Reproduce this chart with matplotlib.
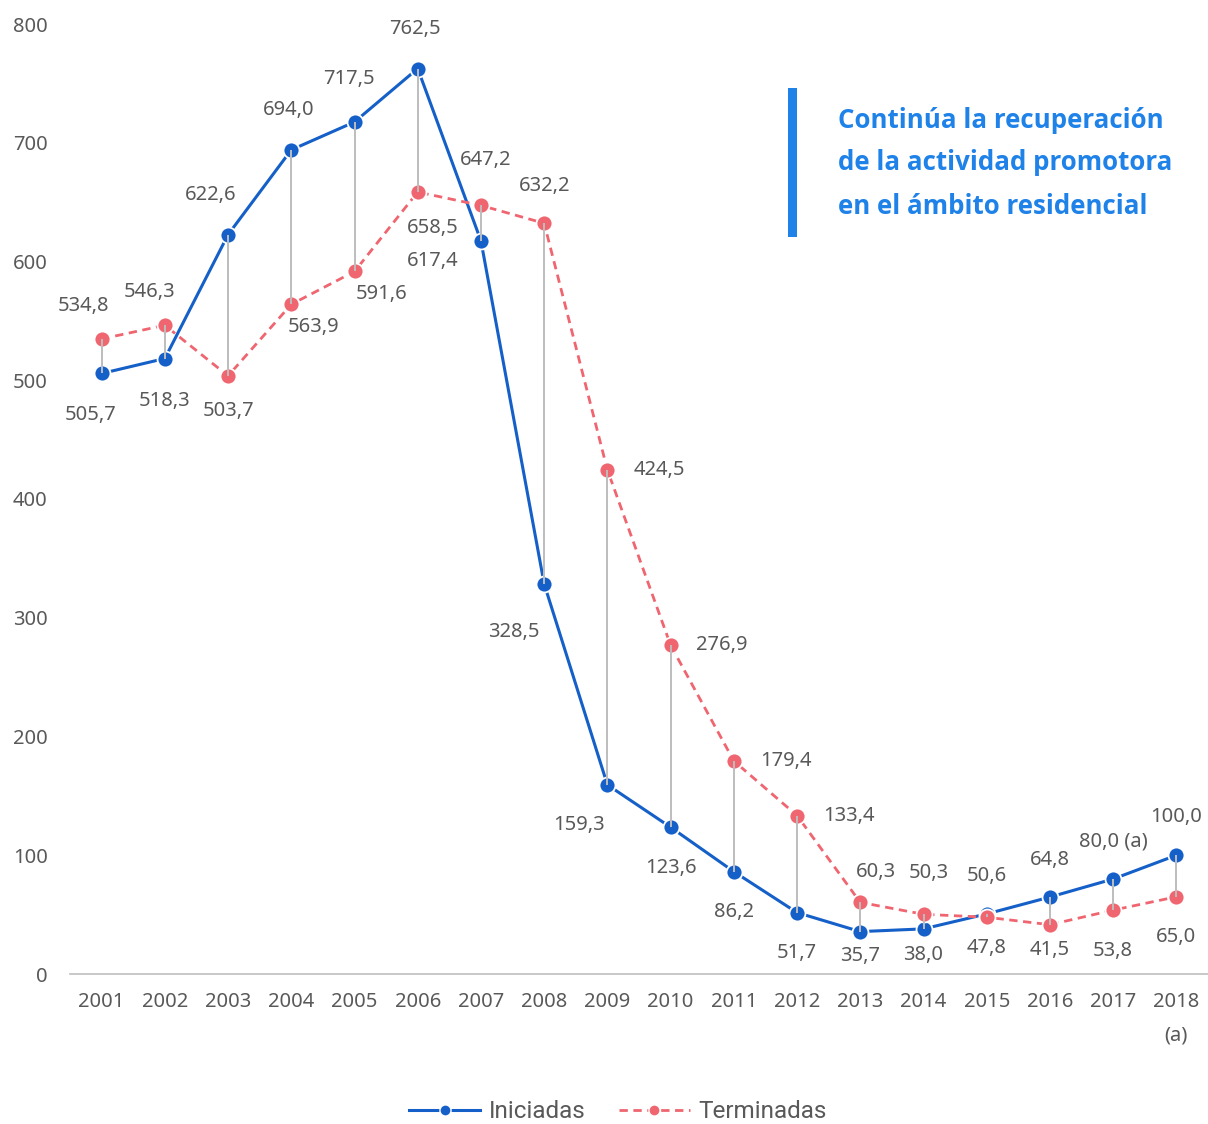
import matplotlib
matplotlib.use("Agg")
import matplotlib.pyplot as plt
from matplotlib.lines import Line2D
from matplotlib.patches import Rectangle

years = list(range(2001, 2019))
xlabels = [str(y) for y in years[:-1]] + ["2018\n(a)"]
iniciadas = [505.7, 518.3, 622.6, 694.0, 717.5, 762.5, 617.4, 328.5, 159.3, 123.6,
             86.2, 51.7, 35.7, 38.0, 50.6, 64.8, 80.0, 100.0]
terminadas = [534.8, 546.3, 503.7, 563.9, 591.6, 658.5, 647.2, 632.2, 424.5, 276.9,
              179.4, 133.4, 60.3, 50.3, 47.8, 41.5, 53.8, 65.0]
ini_labels = [f"{v:.1f}".replace(".", ",") for v in iniciadas]
ini_labels[16] = "80,0 (a)"
ter_labels = [f"{v:.1f}".replace(".", ",") for v in terminadas]
yticks = [0, 100, 200, 300, 400, 500, 600, 700, 800]
title_lines = ["Continúa la recuperación", "de la actividad promotora", "en el ámbito residencial"]

# label offsets in pixels (dx right, dy down)
ini_off = [(-11, 42), (0, 42), (-17, -40), (-3, -40), (-6, -43), (-3, -40), (-48, 20),
           (-30, 48), (-28, 40), (0, 41), (0, 40), (0, 40), (0, 24), (0, 26),
           (0, -38), (0, -37), (0, -38), (0, -38)]
ter_off = [(-18, -33), (-15, -33), (0, 35), (22, 23), (27, 23), (15, 36), (5, -45),
           (0, -37), (52, 0), (51, 0), (52, 0), (52, 0), (16, -30), (5, -41),
           (0, 31), (0, 25), (0, 41), (0, 40)]

font = ["Noto Sans", "DejaVu Sans"]
plt.rcParams['font.family'] = font
gray_txt = "#595959"
blue = "#1560C8"
red = "#EF6570"
title_blue = "#1F82E8"
FS = 14.5

fig = plt.figure(figsize=(12.08, 11.24), dpi=100)
W, H = 1208, 1124
ax = fig.add_axes([70 / W, 1 - 974 / H, (1208 - 70) / W, (974 - 24) / H])
ax.set_xlim(2000.5, 2018.5)
ax.set_ylim(0, 800)

ax.plot(years, iniciadas, color=blue, lw=2.2, marker="o", ms=11.5,
        markeredgecolor="white", markeredgewidth=1.3, zorder=3, label="Iniciadas")
ax.plot(years, terminadas, color=red, lw=2.0, ls=(0, (3, 2)), marker="o", ms=11.5,
        markeredgecolor="white", markeredgewidth=1.3, zorder=4, label="Terminadas")
ax.vlines(years, iniciadas, terminadas, color="#BDBDBD", lw=1.4, zorder=5)

for i, y in enumerate(years):
    dx, dy = ini_off[i]
    ax.annotate(ini_labels[i], (y, iniciadas[i]), xytext=(dx * 0.72, -dy * 0.72),
                textcoords="offset points", ha="center", va="center",
                fontsize=FS, color=gray_txt, annotation_clip=False, zorder=6)
    dx, dy = ter_off[i]
    ax.annotate(ter_labels[i], (y, terminadas[i]), xytext=(dx * 0.72, -dy * 0.72),
                textcoords="offset points", ha="center", va="center",
                fontsize=FS, color=gray_txt, annotation_clip=False, zorder=6)

for s in ["top", "right", "left"]:
    ax.spines[s].set_visible(False)
ax.spines["bottom"].set_color("#BFBFBF")
ax.spines["bottom"].set_linewidth(1.2)
ax.set_xticks(years)
ax.set_xticklabels(xlabels, fontsize=FS, color=gray_txt, linespacing=1.9)
ax.set_yticks(yticks)
ax.set_yticklabels([str(v) for v in yticks], fontsize=FS, color=gray_txt)
ax.tick_params(axis="both", length=0)
ax.tick_params(axis="x", pad=13)
ax.tick_params(axis="y", pad=16)

# title block
fig.add_artist(Rectangle((788 / W, 1 - 237 / H), 9 / W, 149 / H,
                         transform=fig.transFigure, color=title_blue, lw=0))
for k, line in enumerate(title_lines):
    fig.text(838 / W, 1 - (120 + 43 * k) / H, line, ha="left", va="center",
             fontsize=18.6, fontweight="bold", color=title_blue,
             family=["Open Sans", "DejaVu Sans"], transform=fig.transFigure)

handles = [Line2D([], [], color=blue, lw=2.2, marker="o", ms=8, markeredgecolor="white"),
           Line2D([], [], color=red, lw=2.0, ls=(0, (3, 2)), marker="o", ms=8,
                  markeredgecolor="white")]
fig.legend(handles, ["Iniciadas", "Terminadas"], loc="center", bbox_to_anchor=(618 / W, 1 - 1112 / H),
           ncol=2, frameon=False,
           prop={"family": ["Roboto", "DejaVu Sans"], "size": 17.5},
           handlelength=2.9, columnspacing=1.4, handletextpad=0.35, labelcolor=gray_txt)

fig.savefig("out.png", dpi=100, facecolor="white")
